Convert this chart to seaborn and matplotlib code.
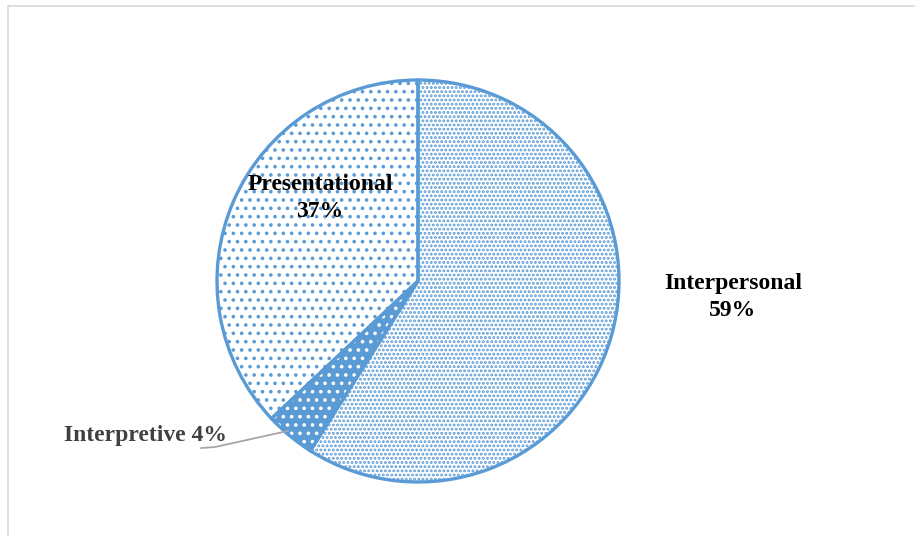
import matplotlib
matplotlib.use("Agg")
import matplotlib.pyplot as plt
import seaborn as sns
from matplotlib.patches import Rectangle

categories = ["Interpersonal", "Interpretive", "Presentational"]
values = [59, 4, 37]
label_texts = ["Interpersonal\n59%", "Interpretive 4%", "Presentational\n37%"]

sns.set_theme(style="white")
plt.rcParams["font.family"] = ["Liberation Serif", "DejaVu Serif"]
plt.rcParams["hatch.linewidth"] = 1.4

blue = "#5B9BD5"

fig = plt.figure(figsize=(9.15, 5.36), dpi=100)
fig.patch.set_facecolor("white")

# outer chart border (partially cropped)
fig.patches.append(Rectangle((8 / 915, -0.05), 1.2, 1 - 6 / 536 + 0.05,
                             transform=fig.transFigure, fill=False,
                             edgecolor="#d9d9d9", linewidth=1.2))

ax = fig.add_axes([217 / 915, 54 / 536, 402 / 915, 402 / 536])
ax.set_xlim(-1, 1)
ax.set_ylim(-1, 1)
ax.set_aspect("equal")
ax.axis("off")

face = ["white", blue, "white"]
hatches = ["....", "..", ".."]
wedges, _ = ax.pie(values, startangle=90, counterclock=False, radius=1,
                   colors=face, wedgeprops=dict(edgecolor=blue, linewidth=0))
for w, h in zip(wedges, hatches):
    w.set_hatch(h)
wedges[1].set_edgecolor("white")

# outlines
outl, _ = ax.pie(values, startangle=90, counterclock=False, radius=1,
                 wedgeprops=dict(fill=False, edgecolor=blue, linewidth=2.4))

ax.set_xlim(-1, 1)
ax.set_ylim(-1, 1)

ax.text(1.567, -0.08, label_texts[0], ha="center", va="center",
        fontsize=17, fontweight="bold", color="black", linespacing=1.38)
ax.text(-0.488, 0.415, label_texts[2], ha="center", va="center",
        fontsize=17, fontweight="bold", color="black", linespacing=1.38)
ax.text(-1.358, -0.771, label_texts[1], ha="center", va="center",
        fontsize=17, fontweight="bold", color="#404040")
ax.plot([-1.080, -1.010, -0.647], [-0.831, -0.826, -0.746],
        color="#a6a6a6", linewidth=1.3, clip_on=False)

fig.savefig("out.png", dpi=100)
